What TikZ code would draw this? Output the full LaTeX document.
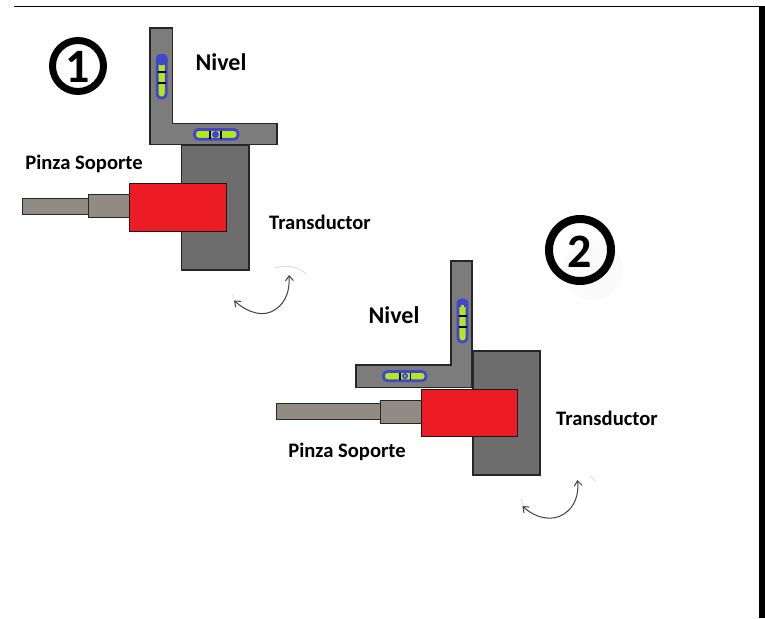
\documentclass[tikz,border=0pt]{standalone}
\usepackage{fontspec}
\setmainfont{Carlito}
\usetikzlibrary{arrows.meta}
\definecolor{lgray}{RGB}{124,124,124}
\definecolor{tgray}{RGB}{109,109,109}
\definecolor{rodgray}{RGB}{145,139,131}
\definecolor{redb}{RGB}{237,28,36}
\definecolor{bluel}{RGB}{63,72,204}
\definecolor{greenl}{RGB}{181,230,29}
\tikzset{
  x=1pt,y=-1pt,
  label text/.style={font=\bfseries\fontsize{20.6}{24}\selectfont,text=black,inner sep=0pt},
  nivel text/.style={font=\bfseries\fontsize{24}{28}\selectfont,text=black,inner sep=0pt},
  num text/.style={font=\bfseries\fontsize{48}{52}\selectfont,text=black,inner sep=0pt},
  lshape/.style={draw=black!85,line width=1.2pt,fill=lgray},
  body/.style={draw=black!85,line width=1.2pt,fill=tgray},
  redbox/.style={draw=black!90,line width=1pt,fill=redb},
  rod/.style={draw=black!85,line width=1pt,fill=rodgray},
  bubble/.style={draw=bluel,line width=2.8pt,fill=greenl,rounded corners=4pt},
  tick/.style={draw=black,line width=1.3pt},
  blob/.style={fill=bluel,draw=none},
  turn/.style={draw=black!75,line width=1pt,{Straight Barb[length=5pt,width=8pt]}-{Straight Barb[length=5pt,width=8pt]}},
  faint/.style={draw=black!13,line width=0.9pt}
}
\begin{document}
\begin{tikzpicture}
\useasboundingbox (0,0) rectangle (765,618);
\fill[white] (0,0) rectangle (765,618);
% frame
\draw[black,line width=1pt] (14,6.5) -- (760,6.5);
\fill[black] (759,6) rectangle (765,618);
% faint marks
\fill[black!2] (593,270) circle (30);
\draw[faint] (275,268) .. controls (285,265) and (298,265) .. (307,275);
\draw[faint] (232,294) -- (234,299);
\draw[faint] (590,476) -- (596,481);
\draw[faint] (521,499) -- (523,505);
% === 1 ===
\draw[lshape] (150,28) -- (172.5,28) -- (172.5,123.5) -- (277,123.5) -- (277,144.5) -- (150,144.5) -- cycle;
\draw[body] (181.5,145.5) rectangle (249,270);
\draw[rod] (22,198) rectangle (88,214);
\draw[rod] (88,194) rectangle (129,217);
\draw[redbox] (129,183.5) rectangle (226,231);
\draw[bubble] (157.2,55.5) rectangle (166.2,98);
\fill[blob,rounded corners=4pt] (156,54) -- (167.5,54) -- (167.5,65) -- (156,65) -- cycle;
\draw[tick] (157.5,72) -- (166,72);
\draw[tick] (157.5,83) -- (166,83);
\draw[bubble] (194.5,129.5) rectangle (238,139.2);
\fill[blob] (215.5,134.5) circle (3.5);
\draw[tick] (210,130.5) -- (210,138.5);
\draw[tick] (221,130.5) -- (221,138.5);
\node[nivel text] (nivelA) at (221,62) {Nivel};
\node[label text] (pinzaA) at (84,164) {Pinza Soporte};
\node[label text] (transA) at (320,222) {Transductor};
\node[num text] (numA) at (78,66.5) {1};
\node[draw=black,line width=7pt,circle,minimum size=51pt,inner sep=0pt] (ringA) at (78,66) {};
\coordinate (a1) at (289,275);
\coordinate (a2) at (234,300.5);
\draw[turn] (a2) .. controls (248,313) and (264,318) .. (276,309) .. controls (286,302) and (290,290) .. (a1);
% === 2 ===
\draw[lshape] (451,261) -- (472,261) -- (472,387.5) -- (356,387.5) -- (356,365) -- (451,365) -- cycle;
\draw[body] (473,351) rectangle (540,475);
\draw[rod] (276,403) rectangle (380,419);
\draw[rod] (380,400) rectangle (421,423);
\draw[redbox] (421,389) rectangle (517,436);
\draw[bubble] (458,300) rectangle (467,342);
\fill[blob,rounded corners=3pt] (457,299) -- (468,299) -- (468,307) -- (457,307) -- cycle;
\fill[greenl] (461,305) rectangle (464,310);
\draw[tick] (458.5,316) -- (466.5,316);
\draw[tick] (458.5,327) -- (466.5,327);
\draw[bubble] (383.5,371.5) rectangle (426,380.8);
\fill[blob] (405,376) circle (3);
\fill[greenl] (405,376) circle (1.2);
\draw[tick] (400,372.5) -- (400,380);
\draw[tick] (410.5,372.5) -- (410.5,380);
\node[nivel text] (nivelB) at (394,315) {Nivel};
\node[label text] (pinzaB) at (347,452) {Pinza Soporte};
\node[label text] (transB) at (607,418) {Transductor};
\node[num text] (numB) at (580,252) {2};
\node[draw=black,line width=8pt,circle,minimum size=62pt,inner sep=0pt] (ringB) at (580,250) {};
\coordinate (b1) at (577.5,480);
\coordinate (b2) at (522.5,506);
\draw[turn] (b2) .. controls (535,518) and (552,522) .. (564,514) .. controls (575,507) and (579,494) .. (b1);
\end{tikzpicture}
\end{document}
